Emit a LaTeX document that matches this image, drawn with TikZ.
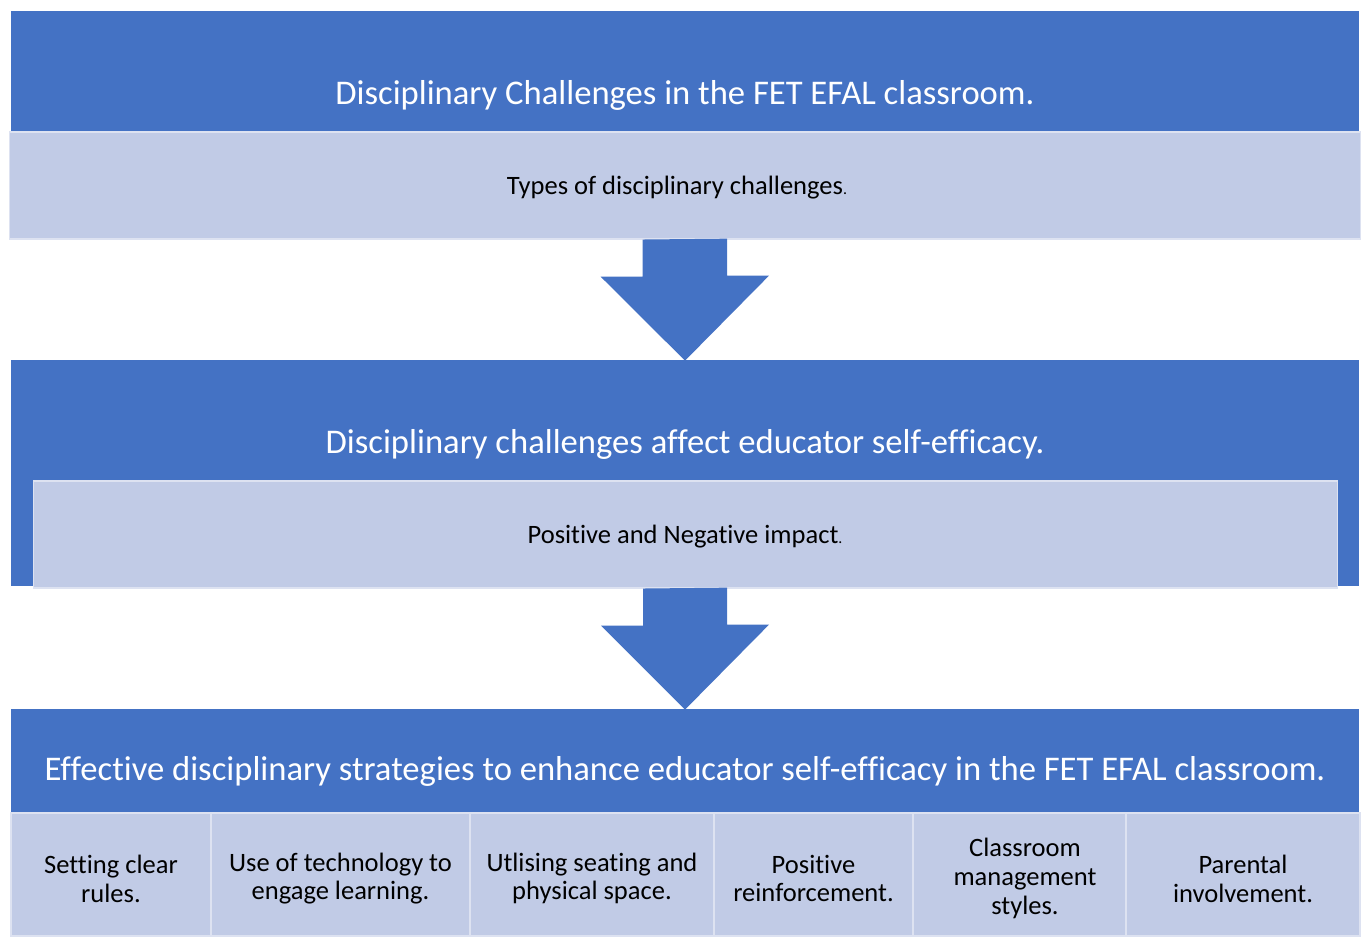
\documentclass[tikz,border=0pt]{standalone}
\usepackage{fontspec}
\setmainfont[Ligatures=NoCommon]{Carlito}
\usetikzlibrary{positioning,calc}
\definecolor{darkblue}{HTML}{4472C4}
\definecolor{paleblue}{HTML}{C1CBE6}
\tikzset{
  headbox/.style={fill=darkblue, draw=none, inner sep=0pt, minimum width=26.96cm},
  headtext/.style={text=white, font=\fontsize{19.7}{23}\selectfont},
  subbox/.style={fill=paleblue, draw=white!45!paleblue, line width=0.6pt, inner sep=0pt,
    minimum height=2.14cm},
  subtext/.style={font=\fontsize{15.1}{18}\selectfont},
  itembox/.style={fill=paleblue, draw=white!45!paleblue, line width=0.6pt, inner sep=0pt,
    minimum height=2.46cm},
  itemtext/.style={align=center, font=\fontsize{15.1}{16.4}\selectfont},
  bigarrow/.style={fill=darkblue, draw=none}
}
\newcommand{\smalldot}{{\fontsize{9}{10}\selectfont.}}

\begin{document}
\begin{tikzpicture}[x=0.02cm, y=-0.02cm]
  \useasboundingbox (0,0) rectangle (1367,937);
  % first level
  \node[headbox, minimum height=2.42cm] (level1) at (685,71.5) {};
  \node[headtext] (level1txt) at (685,95) {Disciplinary Challenges in the FET EFAL classroom.};
  \node[subbox, minimum width=27.04cm] (sub1) at (685,185.5) {};
  \node[subtext] (sub1txt) at (677,188) {Types of disciplinary challenges\smalldot};
  % second level
  \node[headbox, minimum height=4.52cm] (level2) at (685,473) {};
  \node[headtext] (level2txt) at (685,444) {Disciplinary challenges affect educator self-efficacy.};
  \node[subbox, minimum width=26.1cm] (sub2) at (685.5,534.5) {};
  \node[subtext] (sub2txt) at (685,537) {Positive and Negative impact\smalldot};
  % third level
  \node[headbox, minimum height=2.08cm] (level3) at (685,761) {};
  \node[headtext] (level3txt) at (685,771) {Effective disciplinary strategies to enhance educator self-efficacy in the FET EFAL classroom.};
  \foreach \name/\cx/\w/\dx/\txt in {
      item1/111/4.00/0/{Setting clear\\rules.},
      item2/340.5/5.18/0/{Use of technology to\\engage learning.},
      item3/592/4.88/0/{Utlising seating and\\physical space.},
      item4/813.5/3.98/0/{Positive\\reinforcement.},
      item5/1019.5/4.26/5.5/{Classroom\\management\\styles.},
      item6/1243/4.68/0/{Parental\\involvement.}}
    {\node[itembox, minimum width=\w cm] (\name) at (\cx,874.5) {};
     \node[itemtext] (\name txt) at ($(\name.center)+(\dx,4)$) {\txt};}
  % block arrows
  \foreach \a/\b in {sub1/level2, sub2/level3}
    {\fill[bigarrow] ($(\a.south)+(-42.5,0)$) -- ++(0,37) -- ++(-42,0)
       -- ($(\b.north)+(0,1)$) -- ++(84,-85) -- ++(-42,0) -- ++(0,-37) -- cycle;}
\end{tikzpicture}
\end{document}
